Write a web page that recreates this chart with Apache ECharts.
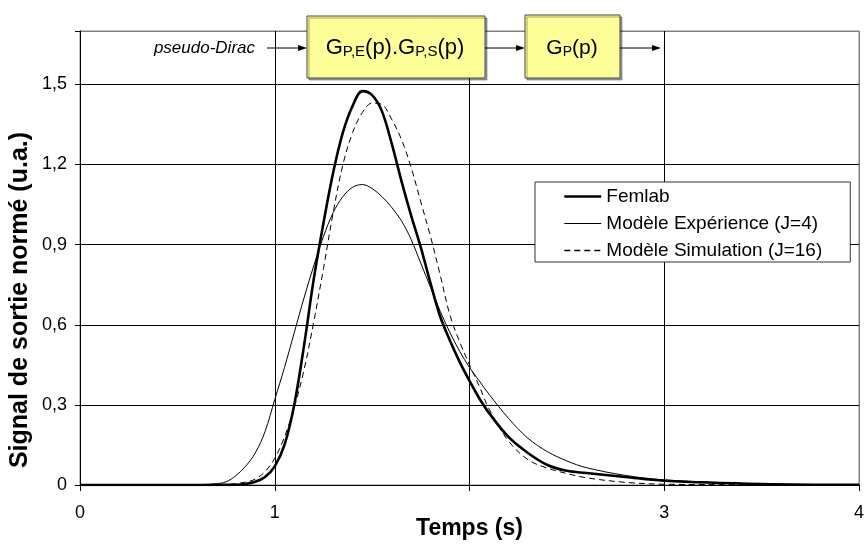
<!DOCTYPE html>
<html><head><meta charset="utf-8">
<script src="https://cdn.jsdelivr.net/npm/echarts@6/dist/echarts.min.js"></script>
<style>html,body{margin:0;padding:0;background:#fff}#c{width:864px;height:545px}</style>
</head><body><div id="c"></div>
<script>
const time = [0,0.5,0.6,0.7,0.75,0.8,0.85,0.9,0.95,1.0,1.05,1.1,1.15,1.2,1.25,1.3,1.35,1.4,1.45,1.5,1.55,1.6,1.65,1.7,1.75,1.8,1.85,1.9,1.95,2.0,2.05,2.1,2.2,2.3,2.4,2.5,2.6,2.8,3.0,3.5,4.0];
const femlab = [0,0,0,0,0.0005,0.001,0.004,0.012,0.03,0.07,0.15,0.30,0.52,0.77,0.98,1.17,1.32,1.42,1.475,1.46,1.40,1.28,1.14,1.01,0.89,0.755,0.63,0.54,0.46,0.39,0.325,0.27,0.18,0.12,0.075,0.053,0.045,0.03,0.016,0.004,0.001];
const experience = [0,0,0.001,0.005,0.012,0.035,0.07,0.12,0.2,0.32,0.44,0.57,0.70,0.82,0.93,1.02,1.08,1.115,1.125,1.11,1.08,1.04,0.99,0.92,0.83,0.74,0.65,0.57,0.50,0.44,0.39,0.34,0.25,0.175,0.125,0.09,0.065,0.036,0.019,0.004,0.001];
const simulation = [0,0,0,0.001,0.002,0.005,0.011,0.022,0.05,0.1,0.18,0.29,0.43,0.61,0.81,1.02,1.2,1.32,1.395,1.43,1.425,1.37,1.295,1.19,1.06,0.93,0.785,0.635,0.535,0.45,0.37,0.285,0.165,0.095,0.063,0.043,0.027,0.01,0.003,0.001,0];
const seriesNames = ['Femlab','Modèle Expérience (J=4)','Modèle Simulation (J=16)'];
const xTicks = [0,1,2,3,4];
const xLabelsShown = [0,1,3,4];
const yTicks = [0,0.3,0.6,0.9,1.2,1.5];

const pair = arr => time.map((t,i)=>[t,arr[i]]);
const chart = echarts.init(document.getElementById('c'));
const FONT = '"Liberation Sans", Arial, sans-serif';
chart.setOption({
  animation:false,
  backgroundColor:'#fff',
  grid:{left:80,right:5,top:31,bottom:60,show:true,borderColor:'#808080',borderWidth:1,outerBoundsMode:'none',containLabel:false},
  xAxis:{type:'value',min:xTicks[0],max:xTicks[xTicks.length-1],interval:1,
    name:'Temps (s)',nameLocation:'middle',nameGap:32,nameMoveOverlap:false,
    nameTextStyle:{fontFamily:FONT,fontWeight:'bold',fontSize:23,color:'#000'},
    axisLine:{lineStyle:{color:'#000',width:1}},
    axisTick:{show:true,length:6,inside:false,lineStyle:{color:'#000'}},
    axisLabel:{fontFamily:FONT,fontSize:18,color:'#000',margin:19,
      formatter:v=> xLabelsShown.indexOf(v)>=0 ? String(v) : ''},
    splitLine:{show:true,lineStyle:{color:['#000','#000','#000','#000','#808080'],width:1}}},
  yAxis:{type:'value',min:0,max:1.7,interval:0.3,
    axisLine:{show:true,lineStyle:{color:'#000',width:1}},
    axisTick:{show:true,length:5,lineStyle:{color:'#000'}},
    axisLabel:{fontFamily:FONT,fontSize:18,color:'#000',margin:13,
      formatter:v=> yTicks.some(t=>Math.abs(t-v)<1e-6) ? v.toFixed(1).replace('.0','').replace('.',',') : ''},
    splitLine:{show:true,lineStyle:{color:['#000','#000','#000','#000','#000','#000','#808080'],width:1}}},
  legend:{show:true,orient:'vertical',left:535,top:182,
    data:[
      {name:seriesNames[0],lineStyle:{width:2.6,color:'#000'}},
      {name:seriesNames[1],lineStyle:{width:1,color:'#000'}},
      {name:seriesNames[2],lineStyle:{width:1.3,color:'#000',type:[6,4]}}
    ],
    backgroundColor:'#fff',borderColor:'#333',borderWidth:1,
    padding:[5,28,2,28],itemGap:8,itemWidth:37,itemHeight:14,
    itemStyle:{opacity:0},
    textStyle:{fontFamily:FONT,fontSize:19,color:'#000'}},
  series:[
    {name:seriesNames[0],type:'line',data:pair(femlab),smooth:0.35,showSymbol:false,symbol:'none',
     itemStyle:{color:'#000'},lineStyle:{color:'#000',width:2.6},z:5},
    {name:seriesNames[1],type:'line',data:pair(experience),smooth:0.35,showSymbol:false,symbol:'none',
     itemStyle:{color:'#000'},lineStyle:{color:'#000',width:1},z:4},
    {name:seriesNames[2],type:'line',data:pair(simulation),smooth:0.35,showSymbol:false,symbol:'none',
     itemStyle:{color:'#000'},lineStyle:{color:'#000',width:1,type:[6,4]},z:3}
  ],
  graphic:[
    {type:'text',x:20,y:300,rotation:Math.PI/2,z:10,
     style:{text:'Signal de sortie normé (u.a.)',font:'bold 25px '+FONT,fill:'#000',align:'center',verticalAlign:'middle'}},
    {type:'text',x:255,y:48,z:10,
     style:{text:'pseudo-Dirac',font:'italic 17px '+FONT,fill:'#000',align:'right',verticalAlign:'middle'}},
    {type:'line',z:10,shape:{x1:267,y1:48,x2:300,y2:48},style:{stroke:'#000',lineWidth:1}},
    {type:'polygon',z:10,shape:{points:[[307,48],[298,45],[298,51]]},style:{fill:'#000'}},
    {type:'rect',z:10,shape:{x:307,y:16,width:178,height:62},
     style:{fill:'#FFFF99',stroke:'#444',lineWidth:1,shadowColor:'rgba(0,0,0,0.35)',shadowOffsetX:2,shadowOffsetY:2,shadowBlur:0}},
    {type:'text',x:395,y:48,z:11,
     style:{rich:{a:{fontFamily:FONT,fontSize:22,color:'#000'},s:{fontFamily:FONT,fontSize:15,color:'#000',padding:[8,0,0,0]}},
       text:'{a|G}{s|P,E}{a|(p).G}{s|P,S}{a|(p)}',align:'center',verticalAlign:'middle'}},
    {type:'line',z:10,shape:{x1:485,y1:48,x2:518,y2:48},style:{stroke:'#000',lineWidth:1}},
    {type:'polygon',z:10,shape:{points:[[525,48],[516,45],[516,51]]},style:{fill:'#000'}},
    {type:'rect',z:10,shape:{x:525,y:15,width:95,height:63},
     style:{fill:'#FFFF99',stroke:'#444',lineWidth:1,shadowColor:'rgba(0,0,0,0.35)',shadowOffsetX:2,shadowOffsetY:2,shadowBlur:0}},
    {type:'text',x:572,y:48,z:11,
     style:{rich:{a:{fontFamily:FONT,fontSize:21,color:'#000'},s:{fontFamily:FONT,fontSize:14,color:'#000',padding:[8,0,0,0]}},
       text:'{a|G}{s|P}{a|(p)}',align:'center',verticalAlign:'middle'}},
    {type:'line',z:10,shape:{x1:620,y1:48,x2:654,y2:48},style:{stroke:'#000',lineWidth:1}},
    {type:'polygon',z:10,shape:{points:[[661,48],[652,45],[652,51]]},style:{fill:'#000'}}
  ]
});
</script></body></html>
